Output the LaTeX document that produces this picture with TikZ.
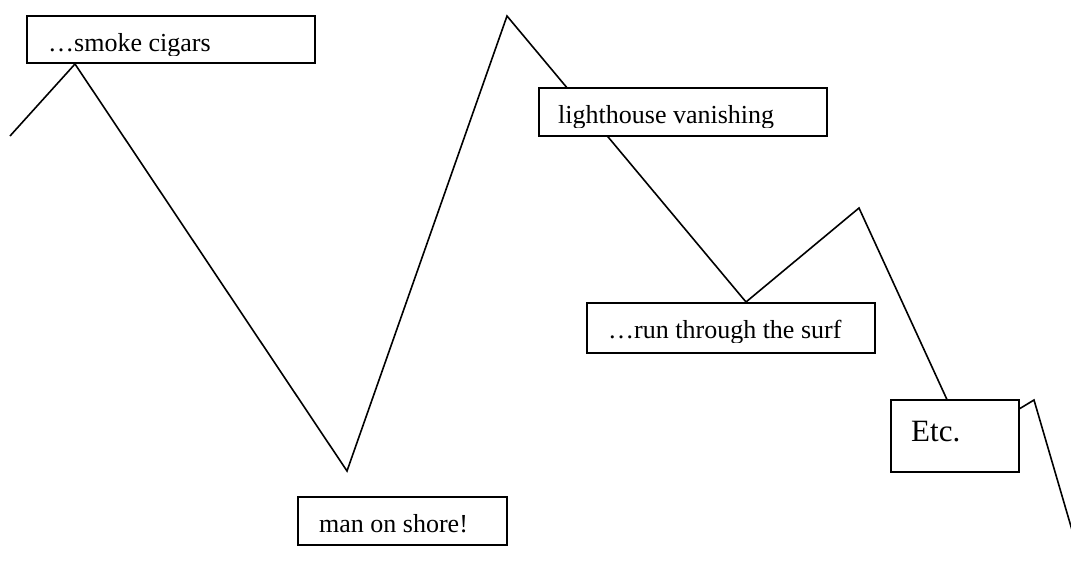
\documentclass[tikz,border=0pt]{standalone}
\usepackage{fontspec}
\setmainfont{Liberation Serif}
\begin{document}
\begin{tikzpicture}[x=1pt,y=-1pt,
  zigzag/.style={draw=black,line width=1.6pt,line join=miter},
  framebox/.style={draw=black,fill=white,line width=2pt},
  lbl/.style={anchor=base west,inner sep=0pt,font=\fontsize{26}{30}\selectfont},
  biglbl/.style={anchor=base west,inner sep=0pt,font=\fontsize{31}{36}\selectfont}]
\useasboundingbox (0,0) rectangle (1071,562);

% vertices of the zigzag line
\coordinate (p0) at (10,136);
\coordinate (p1) at (75,64);
\coordinate (p2) at (347,471);
\coordinate (p3) at (507,16);
\coordinate (p4) at (746,302);
\coordinate (p5) at (859,208);
\coordinate (p6) at (966,441);
\coordinate (p7) at (1034,400);
\coordinate (p8) at (1072,530);

\draw[zigzag] (p0) -- (p1) -- (p2) -- (p3) -- (p4) -- (p5) -- (p6) -- (p7) -- (p8);

% boxes, drawn over the line
\path[framebox] (27,16) rectangle (315,63);
\coordinate (bsmoke) at (27,16);
\path[framebox] (539,88) rectangle (827,136);
\coordinate (blight) at (539,88);
\path[framebox] (587,303) rectangle (875,353);
\coordinate (bsurf) at (587,303);
\path[framebox] (298,497) rectangle (507,545);
\coordinate (bshore) at (298,497);
\path[framebox] (891,400) rectangle (1019,472);
\coordinate (betc) at (891,400);

% labels, cut off at the lower text edge of each box
\begin{scope}
  \clip (28,17) rectangle (314,55);
  \node[lbl] (tsmoke) at (48,51) {…smoke cigars};
\end{scope}
\begin{scope}
  \clip (540,89) rectangle (826,127);
  \node[lbl] (tlight) at (558,123) {lighthouse vanishing};
\end{scope}
\begin{scope}
  \clip (588,304) rectangle (874,342);
  \node[lbl] (tsurf) at (608,338) {…run through the surf};
\end{scope}
\node[lbl] (tshore) at (319,532) {man on shore!};
\node[biglbl] (tetc) at (911,441) {Etc.};
\end{tikzpicture}
\end{document}
